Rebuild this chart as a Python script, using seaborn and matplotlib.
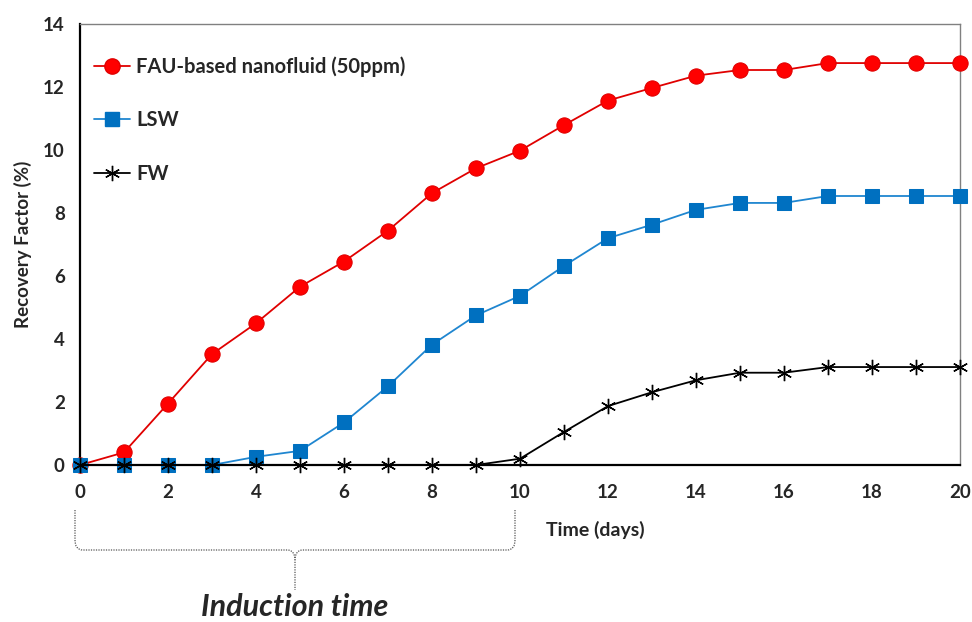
import numpy as np
import pandas as pd
import matplotlib

matplotlib.use("Agg")
import matplotlib.pyplot as plt
import seaborn as sns
from matplotlib.lines import Line2D
from matplotlib.path import Path
from matplotlib.patches import PathPatch

days = list(range(0, 21))
fau = [0, 0.4, 1.95, 3.52, 4.5, 5.66, 6.46, 7.44, 8.63, 9.42, 9.98,
       10.79, 11.57, 11.97, 12.36, 12.54, 12.54, 12.76, 12.76, 12.76, 12.76]
lsw = [0, 0, 0, 0, 0.26, 0.45, 1.35, 2.5, 3.82, 4.75, 5.37,
       6.32, 7.2, 7.63, 8.1, 8.32, 8.32, 8.54, 8.54, 8.54, 8.54]
fw = [0, 0, 0, 0, 0, 0, 0, 0, 0, 0, 0.2,
      1.05, 1.87, 2.31, 2.69, 2.93, 2.93, 3.11, 3.11, 3.11, 3.11]
series_names = ["FAU-based nanofluid (50ppm)", "LSW", "FW"]

sns.set_style("white")
plt.rcParams["font.family"] = ["Lato", "DejaVu Sans"]
plt.rcParams["font.weight"] = "bold"

df = pd.DataFrame({"day": days, series_names[0]: fau,
                   series_names[1]: lsw, series_names[2]: fw})

fig = plt.figure(figsize=(9.72, 6.22), dpi=100)
ax = fig.add_axes([0.0823, 0.2524, 0.9053, 0.709])

star = (6, 2, 0)
styles = [
    dict(color="#E00000", marker="o", markersize=11, markerfacecolor="#FF0000",
         markeredgecolor="#E00000"),
    dict(color="#1F86D0", marker="s", markersize=9.5, markerfacecolor="#0070C0",
         markeredgecolor="#0070C0"),
    dict(color="black", marker=star, markersize=11, markeredgewidth=1.0,
         markeredgecolor="black"),
]
for i, (name, st) in enumerate(zip(series_names, styles)):
    sns.lineplot(data=df, x="day", y=name, ax=ax, linewidth=1.3,
                 clip_on=False, zorder=3 + i, legend=False, **st)

ax.set_xlim(0, 20)
ax.set_ylim(0, 14)
ax.set_xticks(range(0, 21, 2))
ax.set_yticks(range(0, 15, 2))
ax.tick_params(axis="both", labelsize=13.5, width=1.2, color="black")
ax.tick_params(axis="x", length=7, pad=7)
ax.tick_params(axis="y", length=5, pad=6)
for lab in ax.get_xticklabels() + ax.get_yticklabels():
    lab.set_fontweight("bold")

for s in ["left", "bottom"]:
    ax.spines[s].set_color("black")
    ax.spines[s].set_linewidth(1.6)
for s in ["top", "right"]:
    ax.spines[s].set_color("#808080")
    ax.spines[s].set_linewidth(1.0)
ax.spines["bottom"].set_zorder(7)

ax.set_xlabel("")
ax.set_ylabel("")
fig.text(23 / 972, 1 - 244 / 622, "Recovery Factor (%)", fontsize=13.5,
         fontweight="bold", rotation=90, ha="center", va="center")
fig.text(595 / 972, 1 - 530 / 622, "Time (days)", fontsize=14, fontweight="bold",
         ha="center", va="center")

handles = [Line2D([], [], linewidth=1.3, **st) for st in styles]
leg = ax.legend(handles, series_names, loc="upper left",
                bbox_to_anchor=(94 / 972, 1 - 56 / 622),
                bbox_transform=fig.transFigure, frameon=False,
                fontsize=14.5, labelspacing=1.67, handlelength=1.8,
                handletextpad=0.3, borderpad=0, borderaxespad=0)
for t in leg.get_texts():
    t.set_fontweight("bold")

# curly brace under the axis marking the induction period
x0, x1 = 75 / 972, 515 / 972
xm = (x0 + x1) / 2
ytop, ymid, ytip = 1 - 510 / 622, 1 - 550 / 622, 1 - 590 / 622
r = 10 / 622
verts = [
    (x0, ytop), (x0, ymid + r), (x0, ymid), (x0 + 0.008, ymid),
    (xm - 0.008, ymid), (xm, ymid), (xm, ymid - r), (xm, ytip),
]
codes = [Path.MOVETO, Path.LINETO, Path.CURVE3, Path.CURVE3,
         Path.LINETO, Path.CURVE3, Path.CURVE3, Path.LINETO]
verts2 = [
    (x1, ytop), (x1, ymid + r), (x1, ymid), (x1 - 0.008, ymid),
    (xm + 0.008, ymid), (xm, ymid), (xm, ymid - r),
]
codes2 = [Path.MOVETO, Path.LINETO, Path.CURVE3, Path.CURVE3,
          Path.LINETO, Path.CURVE3, Path.CURVE3]
for v, c in [(verts, codes), (verts2, codes2)]:
    fig.add_artist(PathPatch(Path(v, c), transform=fig.transFigure,
                             facecolor="none", edgecolor="#555555",
                             linewidth=0.9, linestyle=(0, (1, 1))))
fig.text(xm, 1 - 607 / 622, "Induction time", fontsize=22, fontweight="bold",
         fontstyle="italic", ha="center", va="center")

fig.savefig("out.png", dpi=100)
